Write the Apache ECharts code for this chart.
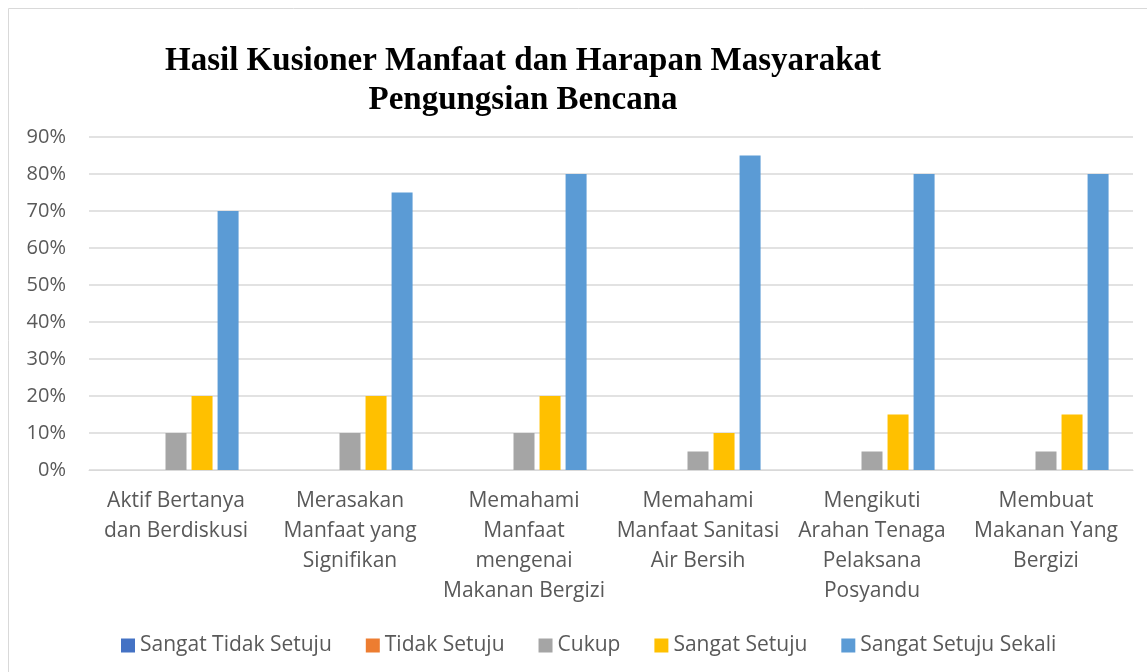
<!DOCTYPE html>
<html>
<head>
<meta charset="utf-8">
<script src="https://cdn.jsdelivr.net/npm/echarts@6/dist/echarts.min.js"></script>
<style>
  html, body { margin: 0; padding: 0; background: #fff; }
  #main { width: 1147px; height: 672px; }
</style>
</head>
<body>
<div id="main"></div>
<script>
var categories = [
  'Aktif Bertanya\ndan Berdiskusi',
  'Merasakan\nManfaat yang\nSignifikan',
  'Memahami\nManfaat\nmengenai\nMakanan Bergizi',
  'Memahami\nManfaat Sanitasi\nAir Bersih',
  'Mengikuti\nArahan Tenaga\nPelaksana\nPosyandu',
  'Membuat\nMakanan Yang\nBergizi'
];
var seriesNames = ['Sangat Tidak Setuju', 'Tidak Setuju', 'Cukup', 'Sangat Setuju', 'Sangat Setuju Sekali'];
var sangatTidakSetuju = [0, 0, 0, 0, 0, 0];
var tidakSetuju = [0, 0, 0, 0, 0, 0];
var cukup = [10, 10, 10, 5, 5, 5];
var sangatSetuju = [20, 20, 20, 10, 15, 15];
var sangatSetujuSekali = [70, 75, 80, 85, 80, 80];
var colors = ['#4472C4', '#ED7D31', '#A5A5A5', '#FFC000', '#5B9BD5'];

var dom = document.getElementById('main');
var myChart = echarts.init(dom);

var allData = [sangatTidakSetuju, tidakSetuju, cukup, sangatSetuju, sangatSetujuSekali];
var series = allData.map(function (d, i) {
  return {
    name: seriesNames[i],
    type: 'bar',
    data: d,
    barWidth: 21,
    barGap: '24%',
    itemStyle: { color: colors[i] }
  };
});

var option = {
  animation: false,
  color: colors,
  title: {
    text: 'Hasil Kusioner Manfaat dan Harapan Masyarakat\nPengungsian Bencana',
    left: 518,
    top: 37,
    textAlign: 'center',
    textStyle: {
      fontFamily: 'Liberation Serif',
      fontWeight: 'bold',
      fontSize: 33,
      lineHeight: 39,
      color: '#000'
    }
  },
  graphic: [{
    type: 'rect',
    shape: { x: 8.5, y: 8.5, width: 1150, height: 670 },
    style: { fill: 'none', stroke: '#d9d9d9', lineWidth: 1 },
    silent: true
  }],
  legend: {
    data: seriesNames,
    left: 116,
    top: 630,
    itemWidth: 14,
    itemHeight: 14,
    itemGap: 34,
    icon: 'rect',
    textStyle: { fontFamily: 'Open Sans', fontSize: 21, color: '#595959' }
  },
  grid: { left: 89, right: 14, top: 137, bottom: 202 },
  xAxis: {
    type: 'category',
    data: categories,
    axisLine: { lineStyle: { color: '#d9d9d9' } },
    axisTick: { show: false },
    axisLabel: {
      fontFamily: 'Open Sans',
      fontSize: 21,
      color: '#595959',
      lineHeight: 30,
      margin: 16,
      interval: 0
    }
  },
  yAxis: {
    type: 'value',
    min: 0,
    max: 90,
    interval: 10,
    axisLine: { show: false },
    axisTick: { show: false },
    splitLine: { lineStyle: { color: '#d9d9d9', width: 1.5 } },
    axisLabel: {
      fontFamily: 'Open Sans',
      fontSize: 20,
      color: '#595959',
      margin: 23,
      formatter: '{value}%'
    }
  },
  series: series
};

if (option && typeof option === 'object') {
  myChart.setOption(option);
}
</script>
</body>
</html>
